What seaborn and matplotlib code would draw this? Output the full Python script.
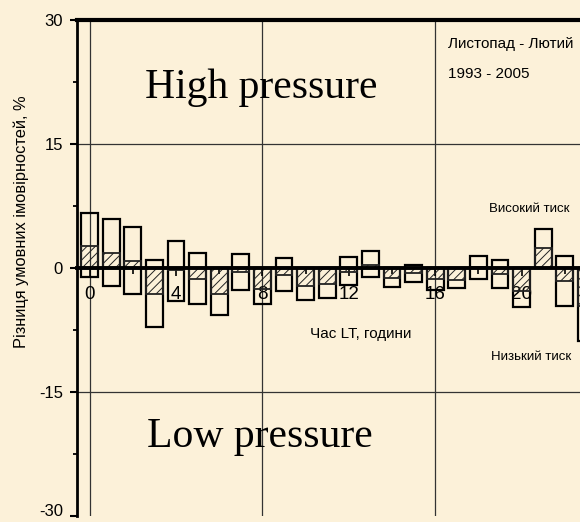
import matplotlib
matplotlib.use('Agg')
import matplotlib.pyplot as plt
import seaborn as sns
import pandas as pd
from matplotlib.ticker import FixedLocator

# ---- data ----
hours = list(range(24))
high_vals = [6.6, 5.9, 5.0, 1.0, 3.3, 1.8, 0.0, 1.65, 0.0, 1.2, 0.0, 0.0,
             1.35, 2.05, 0.0, 0.4, 0.0, 0.0, 1.5, 1.0, 0.0, 4.7, 1.5, 0.0]
low_vals = [-1.1, -2.2, -3.2, -7.1, -4.0, -4.3, -5.7, -2.65, -4.4, -2.75, -3.85, -3.65,
            -2.0, -1.05, -2.3, -1.65, -2.65, -2.45, -1.3, -2.4, -4.75, 0.0, -4.55, -8.8]
mid_vals = [2.7, 1.8, 0.9, -3.2, -0.3, -1.3, -3.2, -0.5, -2.6, -0.8, -2.2, -1.95,
            -0.5, 0.4, -1.2, -0.6, -1.3, -1.45, 0.1, -0.7, -2.8, 2.4, -1.55, -4.6]
y_major = [-30, -15, 0, 15, 30]
y_minor = [-22.5, -7.5, 7.5, 22.5]
x_major = [0, 4, 8, 12, 16, 20]
x_minor = [2, 6, 10, 14, 18, 22]
grid_hours = [0, 8, 16]
grid_levels = [-15, 15]

title_lines = ["Листопад - Лютий", "1993 - 2005"]
ylabel = "Різниця умовних імовірностей, %"
xlabel = "Час LT, години"

BG = '#FCF1D9'
plt.rcParams['font.family'] = ['Liberation Sans', 'DejaVu Sans']
plt.rcParams['hatch.linewidth'] = 0.7

W, H = 580, 522
fig = plt.figure(figsize=(W / 100, H / 100), dpi=100, facecolor=BG)
ax = fig.add_axes([77 / W, 6 / H, (W - 77) / W, 496 / H])
ax.set_facecolor(BG)

df = pd.DataFrame({'hour': hours, 'high': high_vals, 'low': low_vals, 'mid': mid_vals})

for col in ['high', 'low']:
    sns.barplot(data=df, x='hour', y=col, fill=False, color='black', width=0.78,
                linewidth=1.6, errorbar=None, ax=ax, zorder=3)
sns.barplot(data=df, x='hour', y='mid', fill=False, color='#222222', width=0.78,
            linewidth=1.3, hatch='////', errorbar=None, ax=ax, zorder=3)

ax.set_xlim(-0.58, 22.7)
ax.set_ylim(-30, 30)
ax.set_xlabel('')
ax.set_ylabel('')

for h in grid_hours:
    ax.axvline(h, color='#333333', lw=0.9, zorder=1)
for lv in grid_levels:
    ax.axhline(lv, color='#333333', lw=0.9, zorder=1)

ax.spines['right'].set_visible(False)
ax.spines['top'].set_linewidth(3)
ax.spines['left'].set_linewidth(2)
ax.spines['bottom'].set_position(('data', 0))
ax.spines['bottom'].set_linewidth(2.8)
ax.spines['bottom'].set_zorder(5)

ax.yaxis.set_major_locator(FixedLocator(y_major))
ax.yaxis.set_minor_locator(FixedLocator(y_minor))
ax.set_yticklabels([str(v) for v in y_major])
ax.tick_params(axis='y', which='major', length=5, width=1.5, labelsize=12, pad=5)
ax.tick_params(axis='y', which='minor', length=3, width=1.3)
ax.get_yticklabels()[0].set_va('baseline')

ax.xaxis.set_major_locator(FixedLocator(x_major))
ax.xaxis.set_minor_locator(FixedLocator(x_minor))
ax.set_xticklabels([str(v) for v in x_major])
ax.tick_params(axis='x', which='major', length=6, width=1.2, labelsize=13.5, pad=7)
ax.tick_params(axis='x', which='minor', length=4, width=1.2)


def px(x, y):
    return x / W, 1 - y / H


fig.text(*px(145, 98), "High pressure", family=['Liberation Serif'], fontsize=30,
         ha='left', va='baseline')
fig.text(*px(147, 447), "Low pressure", family=['Liberation Serif'], fontsize=30,
         ha='left', va='baseline')
fig.text(*px(448, 44), title_lines[0], fontsize=11, ha='left', va='center')
fig.text(*px(448, 74), title_lines[1], fontsize=11, ha='left', va='center')
fig.text(*px(529, 209), "Високий тиск", fontsize=9.5, ha='center', va='center')
fig.text(*px(531, 357), "Низький тиск", fontsize=9.5, ha='center', va='center')
fig.text(*px(361, 334), xlabel, fontsize=11, ha='center', va='center')
fig.text(*px(21, 222), ylabel, fontsize=11.8, ha='center', va='center', rotation=90)

fig.savefig('out.png', dpi=100, facecolor=BG)
